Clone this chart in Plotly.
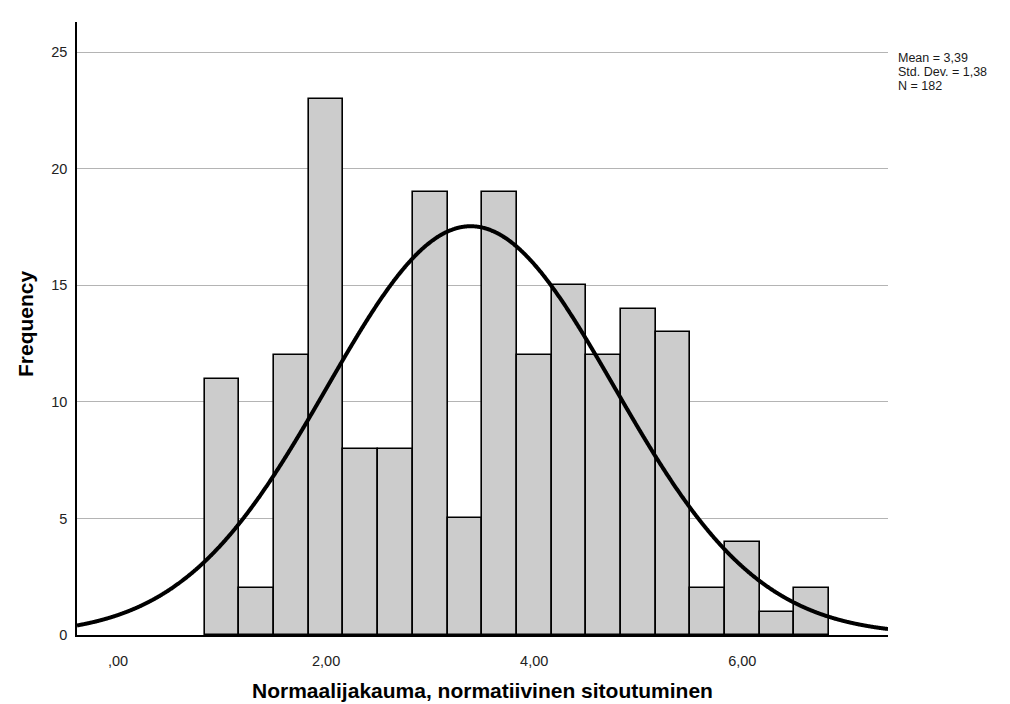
import numpy as np
import plotly.graph_objects as go

# Histogram data (bin centers and frequencies)
bin_centers = [1.0, 4/3, 5/3, 2.0, 7/3, 8/3, 3.0, 10/3, 11/3, 4.0, 13/3, 14/3, 5.0, 16/3, 17/3, 6.0, 19/3, 20/3]
frequencies = [11, 2, 12, 23, 8, 8, 19, 5, 19, 12, 15, 12, 14, 13, 2, 4, 1, 2]
bin_width = 1/3

# Summary statistics shown on chart
mean_val = 3.39
sd_val = 1.38
n_val = 182

x_tickvals = [0, 2, 4, 6]
x_ticktext = [",00", "2,00", "4,00", "6,00"]
y_tickvals = [0, 5, 10, 15, 20, 25]
stats_lines = ["Mean = 3,39", "Std. Dev. = 1,38", "N = 182"]

x_range = [-0.394, 7.40]
y_range = [0, 26.3]

# Normal curve from stated parameters
xs = np.linspace(x_range[0], x_range[1], 1200)
ys = n_val * bin_width / (sd_val * np.sqrt(2 * np.pi)) * np.exp(-0.5 * ((xs - mean_val) / sd_val) ** 2)

FONT = "Liberation Sans, Arial, sans-serif"

fig = go.Figure()
fig.add_trace(go.Bar(
    x=bin_centers, y=frequencies, width=bin_width,
    marker=dict(color="#cccccc", line=dict(color="#000000", width=1.6)),
    showlegend=False, hoverinfo="x+y",
))
fig.add_trace(go.Scatter(
    x=xs, y=ys, mode="lines",
    line=dict(color="#000000", width=4, shape="spline"),
    showlegend=False, hoverinfo="skip",
))

# plot area: left 77, right 888, top 22, bottom 635 (px)
PL, PR, PT, PB = 77, 888, 22, 635
PW, PH = PR - PL, PB - PT

def px_to_paper_x(px):
    return (px - PL) / PW

def px_to_paper_y(py):
    return (PB - py) / PH

annotations = [
    dict(xref="paper", yref="paper", x=0.5, y=px_to_paper_y(690),
         xanchor="center", yanchor="middle", showarrow=False,
         text="<b>Normaalijakauma, normatiivinen sitoutuminen</b>",
         font=dict(family=FONT, size=21, color="#000000")),
    dict(xref="paper", yref="paper", x=px_to_paper_x(25), y=px_to_paper_y(324),
         xanchor="center", yanchor="middle", showarrow=False, textangle=-90,
         text="<b>Frequency</b>",
         font=dict(family=FONT, size=21, color="#000000")),
]
for i, (line, ypix) in enumerate(zip(stats_lines, [58, 72, 86])):
    annotations.append(dict(
        xref="paper", yref="paper", x=px_to_paper_x(897), y=px_to_paper_y(ypix),
        xanchor="left", yanchor="middle", showarrow=False, align="left",
        borderpad=0,
        text=line, font=dict(family=FONT, size=12.5, color="#1a1a1a")))

fig.update_layout(
    width=1010, height=704,
    margin=dict(l=PL, r=1010 - PR, t=PT, b=704 - PB, autoexpand=False),
    paper_bgcolor="white", plot_bgcolor="white",
    font=dict(family=FONT, color="#1a1a1a", size=14),
    bargap=0,
    xaxis=dict(
        range=x_range, tickvals=x_tickvals, ticktext=x_ticktext,
        showgrid=False, zeroline=False, automargin=False,
        showline=True, linecolor="#000000", linewidth=1.5,
        ticks="", ticklen=0, ticklabelstandoff=12,
        tickfont=dict(size=14.5, color="#222222"),
    ),
    yaxis=dict(
        range=y_range, tickvals=y_tickvals,
        showgrid=True, gridcolor="#b4b4b4", gridwidth=1,
        zeroline=False, automargin=False,
        showline=True, linecolor="#000000", linewidth=1.5,
        ticks="", ticklen=0, ticklabelstandoff=5,
        tickfont=dict(size=14.5, color="#222222"),
    ),
    annotations=annotations,
)

fig.write_html("out.html")
